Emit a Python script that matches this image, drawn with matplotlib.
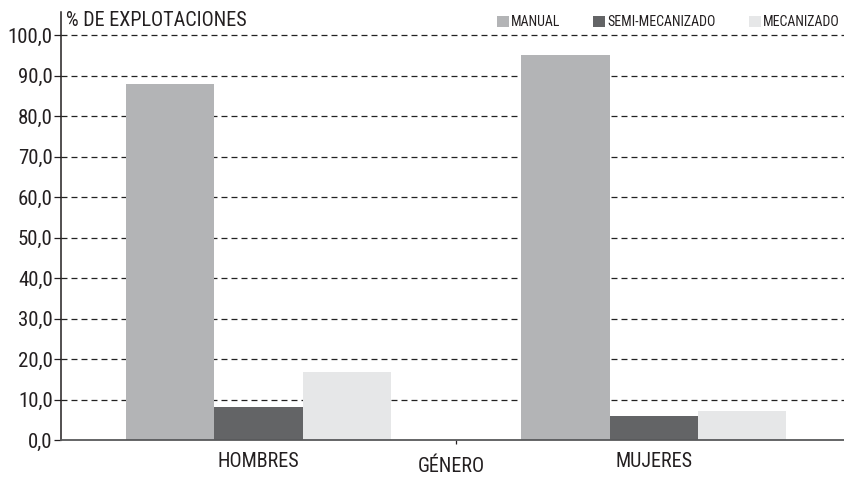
import matplotlib
matplotlib.use("Agg")
import matplotlib.pyplot as plt
from matplotlib.patches import Rectangle
import numpy as np

plt.rcParams["font.family"] = ["Roboto Condensed", "Liberation Sans Narrow",
                               "Roboto", "DejaVu Sans"]
plt.rcParams["font.stretch"] = "condensed"
plt.rcParams["lines.scale_dashes"] = False

# datos: % de explotaciones por tipo de labor y género
generos = ["HOMBRES", "MUJERES"]
series = ["MANUAL", "SEMI-MECANIZADO", "MECANIZADO"]
manual = [87.9, 95.1]
semi_mecanizado = [8.1, 6.0]
mecanizado = [16.8, 7.2]
yticks = [0, 10, 20, 30, 40, 50, 60, 70, 80, 90, 100]

colores = ["#b3b4b6", "#636466", "#e6e7e8"]
valores = [manual, semi_mecanizado, mecanizado]
TINTA = "#231f20"

W, H = 844, 478
fig = plt.figure(figsize=(W / 100, H / 100), dpi=100)
ax = fig.add_axes([61 / W, 38 / H, (W - 61) / W, 428 / H])

x = np.arange(len(generos))
ancho = 0.223
for i, (vals, col) in enumerate(zip(valores, colores)):
    ax.bar(x + (i - 1) * ancho, vals, width=ancho, color=col, zorder=3,
           linewidth=0)

ax.set_xlim(-0.5, 1.482)
ax.set_ylim(0, 105.7)

# rejilla discontinua
for v in yticks[1:]:
    ax.axhline(v, color="#222222", lw=0.9, dashes=(4.3, 2.9), zorder=1)

ax.set_yticks(yticks)
ax.set_yticklabels([f"{v:.1f}".replace(".", ",") for v in yticks],
                   fontsize=15, color=TINTA)
ax.tick_params(axis="y", direction="out", length=5, width=0.9,
               color=TINTA, pad=1)
ax.set_xticks(x)
ax.set_xticklabels(generos, fontsize=14.5, color=TINTA)
ax.tick_params(axis="x", which="major", length=0, pad=8.5)
# marca separadora entre grupos
ax.set_xticks(x[:-1] + 0.5, minor=True)
ax.tick_params(axis="x", which="minor", direction="out", length=3,
               width=0.9, color=TINTA)

for s in ["top", "right"]:
    ax.spines[s].set_visible(False)
ax.spines["left"].set_color(TINTA)
ax.spines["left"].set_linewidth(1.1)
ax.spines["bottom"].set_color("#58595b")
ax.spines["bottom"].set_linewidth(1.3)
ax.spines["bottom"].set_zorder(4)

fig.text(66 / W, 1 - 21 / H, "% DE EXPLOTACIONES", fontsize=14.5,
         color=TINTA, ha="left", va="center")
fig.text(451 / W, 1 - 476.5 / H, "GÉNERO", fontsize=14.5, color=TINTA,
         ha="center", va="bottom")

# leyenda
posiciones = [497, 593, 749]
for px, nombre, col in zip(posiciones, series, colores):
    fig.patches.append(Rectangle((px / W, 1 - 27 / H), 12 / W, 11 / H,
                                 transform=fig.transFigure, color=col,
                                 linewidth=0))
    fig.text((px + 14) / W, 1 - 21.5 / H, nombre, fontsize=10,
             color=TINTA, ha="left", va="center")

fig.savefig("out.png", dpi=100)
